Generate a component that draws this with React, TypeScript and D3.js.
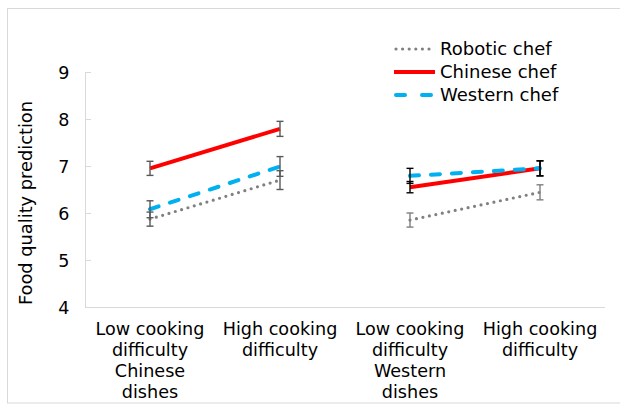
import React from "react";
import * as d3 from "d3";

const categories = ["lowCN", "highCN", "lowWE", "highWE"];
const labelLines = [
  ["Low cooking", "difficulty", "Chinese", "dishes"],
  ["High cooking", "difficulty"],
  ["Low cooking", "difficulty", "Western", "dishes"],
  ["High cooking", "difficulty"],
];
const yTicks = [4, 5, 6, 7, 8, 9];

const seriesNames = ["Robotic chef", "Chinese chef", "Western chef"];
const roboticValues = [5.87, 6.7, 5.85, 6.44];
const roboticErr = [0.15, 0.2, 0.15, 0.16];
const chineseValues = [6.95, 7.79, 6.55, 6.95];
const chineseErr = [0.15, 0.16, 0.12, 0.16];
const westernValues = [6.08, 6.99, 6.79, 6.95];
const westernErr = [0.18, 0.21, 0.16, 0.16];

const FONT = "DejaVu Sans";

const styles = [
  { color: "#808080", width: 3.2, dash: "0 6.6", legendDash: "0 6.6", errColor: ["#595959", "#595959", "#7f7f7f", "#7f7f7f"] },
  { color: "#ff0000", width: 4, dash: "", legendDash: "", errColor: ["#595959", "#595959", "#000000", "#000000"] },
  { color: "#00b0f0", width: 4, dash: "9 12", legendDash: "9 17", errColor: ["#595959", "#595959", "#000000", "#000000"] },
];

const series = [
  { name: seriesNames[0], values: roboticValues, err: roboticErr },
  { name: seriesNames[1], values: chineseValues, err: chineseErr },
  { name: seriesNames[2], values: westernValues, err: westernErr },
];

// points that are joined by a line (one pair per dish panel)
const panels = [
  [0, 1],
  [2, 3],
];

export default function App() {
  const y = d3.scaleLinear().domain([4, 9]).range([307, 72]);
  const x = d3.scaleBand<string>().domain(categories).range([85, 605]);
  const cx = (i: number) => x(categories[i])! + x.bandwidth() / 2;

  return (
    <svg
      width={620}
      height={404}
      style={{ position: "absolute", left: 0, top: 0 }}
      fontFamily={FONT}
    >
      <rect x={7.5} y={8.5} width={620} height={394.5} fill="white" stroke="#d9d9d9" />

      {/* y axis */}
      <line x1={85.5} x2={85.5} y1={y(9)} y2={y(4)} stroke="#d9d9d9" />
      {yTicks.map(t => (
        <g key={t}>
          <line x1={85.5} x2={91} y1={Math.round(y(t)) + 0.5} y2={Math.round(y(t)) + 0.5} stroke="#d9d9d9" />
          <text x={69.5} y={y(t) + 1} dy="0.36em" textAnchor="end" fontSize={17.5} fill="#000">
            {t}
          </text>
        </g>
      ))}
      <line x1={85} x2={605} y1={y(4) + 0.5} y2={y(4) + 0.5} stroke="#d9d9d9" />

      <text transform="translate(32,203) rotate(-90)" textAnchor="middle" fontSize={17.8} fill="#000">
        Food quality prediction
      </text>

      {/* category labels */}
      {categories.map((c, i) => (
        <text key={c} x={cx(i)} y={335} textAnchor="middle" fontSize={17.6} fill="#000">
          {labelLines[i].map((l, j) => (
            <tspan key={j} x={cx(i)} dy={j === 0 ? 0 : 21}>
              {l}
            </tspan>
          ))}
        </text>
      ))}

      {/* lines */}
      {series.map((s, si) =>
        panels.map((p, pi) => (
          <path
            key={`${si}-${pi}`}
            d={
              d3
                .line<number>()
                .x(i => cx(i))
                .y(i => y(s.values[i]))(p) || ""
            }
            fill="none"
            stroke={styles[si].color}
            strokeWidth={styles[si].width}
            strokeDasharray={styles[si].dash || undefined}
            strokeLinecap={styles[si].dash ? "round" : "butt"}
          />
        ))
      )}

      {/* error bars */}
      {series.map((s, si) =>
        s.values.map((v, i) => {
          const px = cx(i);
          const col = styles[si].errColor[i];
          return (
            <g key={`e${si}-${i}`} stroke={col} strokeWidth={1.4}>
              <line x1={px} x2={px} y1={y(v + s.err[i])} y2={y(v - s.err[i])} />
              <line x1={px - 3.5} x2={px + 3.5} y1={y(v + s.err[i])} y2={y(v + s.err[i])} />
              <line x1={px - 3.5} x2={px + 3.5} y1={y(v - s.err[i])} y2={y(v - s.err[i])} />
            </g>
          );
        })
      )}

      {/* legend */}
      {series.map((s, si) => {
        const ly = 49 + si * 23;
        return (
          <g key={s.name}>
            <line
              x1={styles[si].dash ? 396 : 394}
              x2={styles[si].dash ? 433 : 435}
              y1={ly}
              y2={ly}
              stroke={styles[si].color}
              strokeWidth={styles[si].width}
              strokeDasharray={styles[si].legendDash || undefined}
              strokeLinecap={styles[si].dash ? "round" : "butt"}
            />
            <text x={440} y={ly} dy="0.36em" fontSize={18} fill="#000">
              {s.name}
            </text>
          </g>
        );
      })}
    </svg>
  );
}
